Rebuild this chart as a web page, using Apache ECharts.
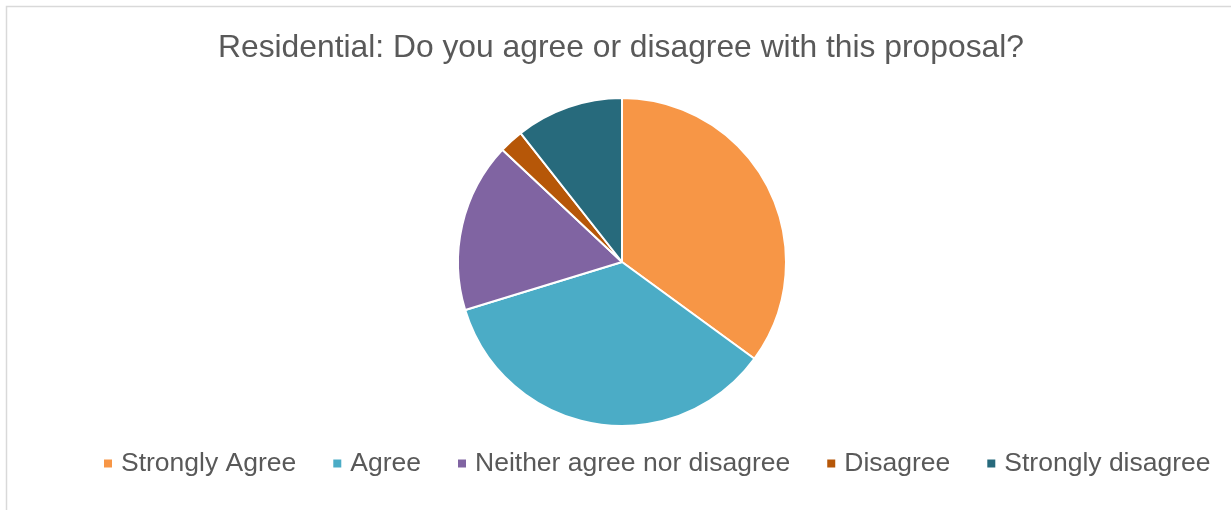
<!DOCTYPE html>
<html><head><meta charset="utf-8">
<script src="https://cdn.jsdelivr.net/npm/echarts@6/dist/echarts.min.js"></script>
<style>html,body{margin:0;padding:0;background:#fff;}#c{width:1231px;height:510px;}</style>
</head><body><div id="c"></div>
<script>
const categories = ['Strongly Agree','Agree','Neither agree nor disagree','Disagree','Strongly disagree'];
const values = [35.0, 35.2, 16.7, 2.4, 10.6];
const colors = ['#F79646','#4BACC6','#8064A2','#B65708','#276A7C'];
const titleText = 'Residential: Do you agree or disagree with this proposal?';

const chart = echarts.init(document.getElementById('c'));
chart.setOption({
  animation: false,
  color: colors,
  graphic: [{type:'rect', shape:{x:6.5,y:6.5,width:1240,height:520}, style:{fill:'none', stroke:'#d9d9d9', lineWidth:1.5}, silent:true}],
  title: {text: titleText, left: 616, textAlign: 'center', top: 27,
    textStyle:{fontFamily:'Liberation Sans, Arial, sans-serif', fontSize:31.8, fontWeight:'normal', color:'#595959', lineHeight:32}},
  legend: {data: categories, top: 445, left: 97, itemWidth: 10, itemHeight: 10, itemGap: 35, icon: 'rect',
    textStyle:{fontFamily:'Liberation Sans, Arial, sans-serif', fontSize:26.5, color:'#595959', padding:[0,0,0,3]}},
  series: [{type:'pie', center:[622,262], radius:[0,164], startAngle:90, clockwise:true,
    label:{show:false}, labelLine:{show:false},
    itemStyle:{borderColor:'#fff', borderWidth:2},
    data: categories.map((n,i)=>({name:n, value:values[i]}))}]
});
</script></body></html>
